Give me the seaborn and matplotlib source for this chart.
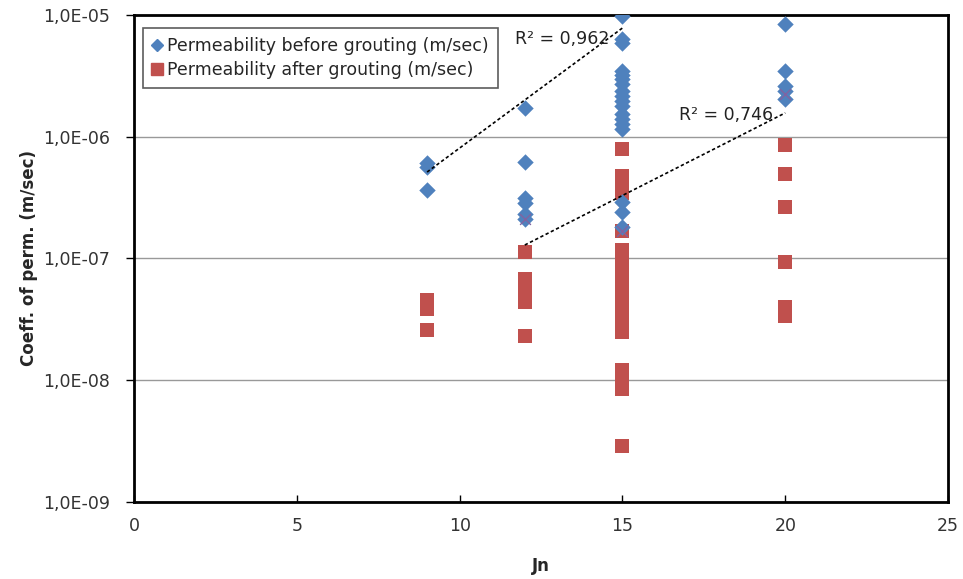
import numpy as np
import pandas as pd
import matplotlib
matplotlib.use('Agg')
import matplotlib.pyplot as plt
import seaborn as sns
from matplotlib.lines import Line2D

# permeability before grouting (m/sec)
jn_before = [9, 9, 9,
             12, 12, 12, 12, 12, 12,
             15, 15, 15, 15, 15, 15, 15, 15, 15, 15, 15, 15, 15, 15, 15, 15, 15, 15,
             20, 20, 20, 20, 20]
k_before = [6.05e-7, 5.61e-7, 3.63e-7,
            1.71e-6, 6.21e-7, 3.16e-7, 2.88e-7, 2.31e-7, 2.10e-7,
            9.84e-6, 6.34e-6, 5.88e-6, 3.46e-6, 3.21e-6, 2.97e-6, 2.70e-6, 2.37e-6,
            2.15e-6, 1.96e-6, 1.78e-6, 1.53e-6, 1.39e-6, 1.27e-6, 1.15e-6,
            2.89e-7, 2.39e-7, 1.80e-7,
            8.41e-6, 3.44e-6, 2.62e-6, 2.38e-6, 2.03e-6]

# permeability after grouting (m/sec)
jn_after = [9, 9, 9,
            12, 12, 12, 12, 12, 12,
            15, 15, 15, 15, 15, 15, 15, 15, 15, 15, 15, 15, 15, 15, 15, 15, 15, 15, 15, 15,
            20, 20, 20, 20, 20, 20]
k_after = [4.57e-8, 3.86e-8, 2.61e-8,
           1.14e-7, 6.73e-8, 5.78e-8, 4.97e-8, 4.36e-8, 2.29e-8,
           7.89e-7, 4.73e-7, 4.07e-7, 3.43e-7, 1.67e-7,
           1.17e-7, 1.00e-7, 8.61e-8, 7.40e-8, 6.36e-8, 5.47e-8, 4.79e-8, 4.27e-8,
           3.34e-8, 2.87e-8, 2.51e-8, 1.22e-8, 1.01e-8, 8.55e-9, 2.90e-9,
           8.51e-7, 4.92e-7, 2.67e-7, 9.33e-8, 3.96e-8, 3.40e-8]

# extra x-marker series (no legend entry)
jn_extra = [12, 15, 20]
k_extra = [2.10e-7, 1.67e-7, 2.24e-6]

# exponential trend lines (end points)
trend1_x = [9, 15]
trend1_y = [5.13e-7, 7.82e-6]
trend2_x = [12, 20]
trend2_y = [1.29e-7, 1.57e-6]
r2_labels = ['R² = 0,962', 'R² = 0,746']
r2_pos = [(11.7, 6.3e-6), (16.74, 1.51e-6)]

y_ticks = [1e-9, 1e-8, 1e-7, 1e-6, 1e-5]
y_tick_labels = ['1,0E-09', '1,0E-08', '1,0E-07', '1,0E-06', '1,0E-05']
x_ticks = [0, 5, 10, 15, 20, 25]

blue = '#4F81BD'
red = '#C0504D'
purple = '#8064A2'

sns.set_style('white')
plt.rcParams['font.family'] = ['DejaVu Sans']

df_b = pd.DataFrame({'Jn': jn_before, 'k': k_before})
df_a = pd.DataFrame({'Jn': jn_after, 'k': k_after})
df_x = pd.DataFrame({'Jn': jn_extra, 'k': k_extra})

fig = plt.figure(figsize=(9.63, 5.79), dpi=100)
ax = fig.add_axes([0.1392, 0.1330, 0.8453, 0.8411])

sns.scatterplot(data=df_a, x='Jn', y='k', marker='s', s=95, color=red,
                edgecolor=red, linewidth=0, ax=ax, zorder=3)
sns.scatterplot(data=df_b, x='Jn', y='k', marker='D', s=70, color=blue,
                edgecolor=blue, linewidth=0, ax=ax, zorder=4)
sns.scatterplot(data=df_x, x='Jn', y='k', marker='x', s=60, color=purple,
                linewidth=1.0, ax=ax, zorder=5)

ax.plot(trend1_x, trend1_y, color='black', lw=1.2, ls=(0, (2, 1.5)), zorder=6)
ax.plot(trend2_x, trend2_y, color='black', lw=1.2, ls=(0, (2, 1.5)), zorder=6)
for lab, (px, py) in zip(r2_labels, r2_pos):
    ax.text(px, py, lab, fontsize=12.5, va='center', ha='left', color='#222222', zorder=7)

ax.set_yscale('log')
ax.set_xlim(0, 25)
ax.set_ylim(1e-9, 1e-5)
ax.set_yticks(y_ticks)
ax.set_yticklabels(y_tick_labels)
ax.yaxis.set_minor_locator(matplotlib.ticker.NullLocator())
ax.set_xticks(x_ticks)
ax.tick_params(axis='y', direction='out', length=6, width=1, labelsize=12.5,
               colors='black', labelcolor='#333333', left=True, pad=11)
ax.tick_params(axis='x', direction='in', length=5, width=1, labelsize=12.5,
               colors='black', labelcolor='#333333', bottom=True, pad=11)
ax.grid(axis='y', which='major', color='#999999', lw=1)
ax.set_axisbelow(True)
for sp in ax.spines.values():
    sp.set_visible(True)
    sp.set_color('black')
    sp.set_linewidth(2)

ax.set_xlabel('Jn', fontsize=12, fontweight='bold', labelpad=16)
ax.set_ylabel('Coeff. of perm. (m/sec)', fontsize=12, fontweight='bold', labelpad=4)

handles = [Line2D([], [], marker='D', color=blue, ls='none', markersize=6),
           Line2D([], [], marker='s', color=red, ls='none', markersize=8)]
leg = ax.legend(handles, ['Permeability before grouting (m/sec)',
                          'Permeability after grouting (m/sec)'],
                loc='upper left', bbox_to_anchor=(0.011, 0.973), borderaxespad=0,
                fontsize=12.5, frameon=True, fancybox=False, handlelength=0.6,
                handletextpad=0.3, borderpad=0.5, labelspacing=0.35)
leg.get_frame().set_edgecolor('#333333')
leg.get_frame().set_linewidth(1.2)

fig.savefig('out.png', dpi=100)
